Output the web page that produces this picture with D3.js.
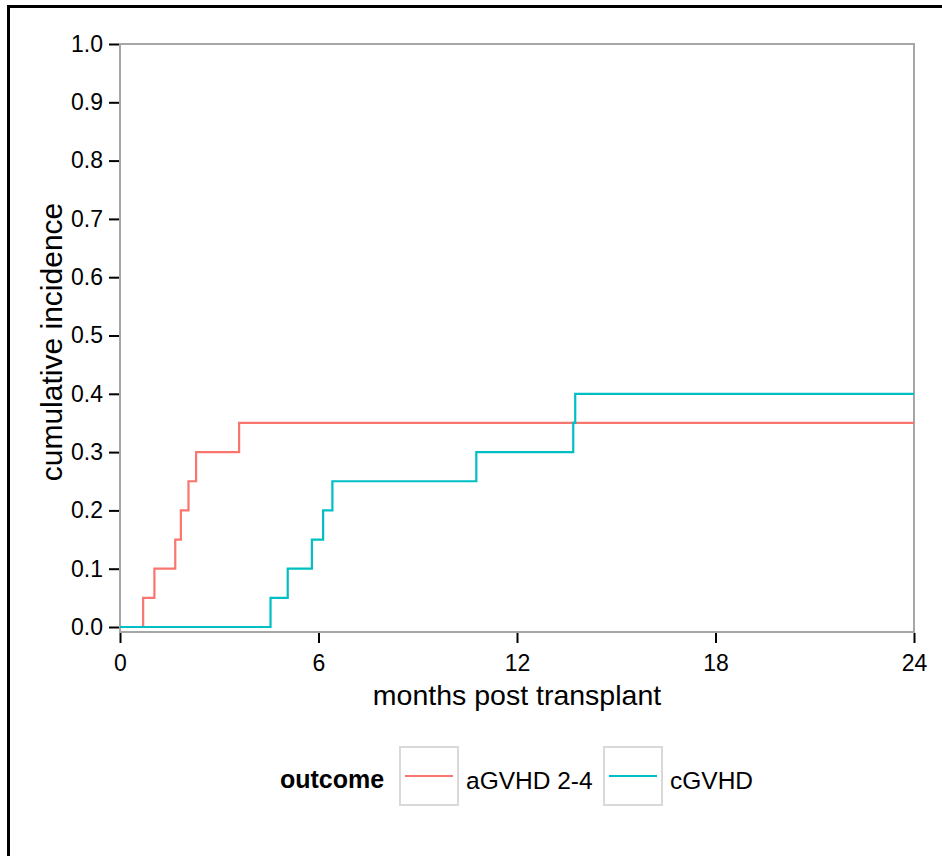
<html>
<head>
  <style>
    body { margin: 0; background: #fff; }
    text { font-family: "Liberation Sans", Arial, sans-serif; }
  </style>
</head>
<body>
  <svg id="container" width="942" height="856"></svg>
</body>
<script src="https://cdn.jsdelivr.net/npm/d3@7"></script>
<script>
  // data
  let outcomes = ["aGVHD 2-4", "cGVHD"]
  let colors = ["#F8766D", "#00BFC4"]
  let aTimes = [0, 0.70, 1.04, 1.67, 1.84, 2.07, 2.30, 3.60, 24]
  let aValues = [0, 0.05, 0.10, 0.15, 0.20, 0.25, 0.30, 0.35, 0.35]
  let cTimes = [0, 4.55, 5.07, 5.80, 6.14, 6.42, 10.77, 13.70, 13.76, 24]
  let cValues = [0, 0.05, 0.10, 0.15, 0.20, 0.25, 0.30, 0.35, 0.40, 0.40]
  let xTicks = [0, 6, 12, 18, 24]
  let yTicks = [0, 0.1, 0.2, 0.3, 0.4, 0.5, 0.6, 0.7, 0.8, 0.9, 1.0]

  let svg = d3.select("#container")

  // outer frame (only left and top edges are inside the picture)
  svg.append("rect")
     .attr("x", 8.5).attr("y", 6.5)
     .attr("width", 1000).attr("height", 1000)
     .attr("fill", "none")
     .attr("stroke", "black")
     .attr("stroke-width", 3)

  let x = d3.scaleLinear().domain([0, 24]).range([120, 914])
  let y = d3.scaleLinear().domain([0, 1]).range([627, 44])
  let panelBottom = 632

  // panel
  svg.append("rect")
     .attr("x", x(0)).attr("y", y(1))
     .attr("width", x(24) - x(0))
     .attr("height", panelBottom - y(1))
     .attr("fill", "white")
     .attr("stroke", "#a6a6a6")
     .attr("stroke-width", 2)

  // y axis
  let yAxis = svg.append("g")
     .attr("transform", "translate(" + (x(0) - 1) + ",0)")
     .call(d3.axisLeft(y).tickValues(yTicks).tickSize(10).tickPadding(6).tickFormat(d3.format(".1f")))
  yAxis.select(".domain").remove()
  yAxis.selectAll("line").attr("stroke", "black").attr("stroke-width", 2)
  yAxis.selectAll("text").attr("font-size", 23).attr("fill", "black")
       .attr("font-family", "Liberation Sans, Arial, sans-serif")

  // x axis
  let xAxis = svg.append("g")
     .attr("transform", "translate(0," + (panelBottom + 1) + ")")
     .call(d3.axisBottom(x).tickValues(xTicks).tickSize(10).tickPadding(12))
  xAxis.select(".domain").remove()
  xAxis.selectAll("line").attr("stroke", "black").attr("stroke-width", 2)
  xAxis.selectAll("text").attr("font-size", 23).attr("fill", "black")
       .attr("font-family", "Liberation Sans, Arial, sans-serif")

  // axis titles
  svg.append("text")
     .attr("x", (x(0) + x(24)) / 2).attr("y", 705)
     .attr("text-anchor", "middle")
     .attr("font-size", 28.5)
     .text("months post transplant")

  svg.append("text")
     .attr("transform", "translate(62,342) rotate(-90)")
     .attr("text-anchor", "middle")
     .attr("font-size", 30)
     .text("cumulative incidence")

  // step curves
  let series = [
    { name: outcomes[0], color: colors[0], pts: aTimes.map((t, i) => [t, aValues[i]]) },
    { name: outcomes[1], color: colors[1], pts: cTimes.map((t, i) => [t, cValues[i]]) }
  ]
  let line = d3.line()
               .x(d => x(d[0]))
               .y(d => y(d[1]))
               .curve(d3.curveStepAfter)

  svg.append("g")
     .selectAll("path")
     .data(series)
     .enter()
     .append("path")
       .attr("d", d => line(d.pts))
       .attr("fill", "none")
       .attr("stroke", d => d.color)
       .attr("stroke-width", 2.2)

  // legend
  let legend = svg.append("g")
  legend.append("text")
        .attr("x", 280).attr("y", 788)
        .attr("font-size", 25)
        .attr("font-weight", "bold")
        .text("outcome")

  let keyX = [400, 604]
  let keys = legend.selectAll("g.key")
        .data(series)
        .enter()
        .append("g")
          .attr("class", "key")
          .attr("transform", (d, i) => "translate(" + keyX[i] + ",747)")
  keys.append("rect")
      .attr("width", 58).attr("height", 58)
      .attr("fill", "white")
      .attr("stroke", "#d9d9d9")
      .attr("stroke-width", 2)
  keys.append("line")
      .attr("x1", 5).attr("x2", 53)
      .attr("y1", 29).attr("y2", 29)
      .attr("stroke", d => d.color)
      .attr("stroke-width", 2.2)
  keys.append("text")
      .attr("x", 66).attr("y", 42)
      .attr("font-size", 24.5)
      .text(d => d.name)
</script>
</html>
